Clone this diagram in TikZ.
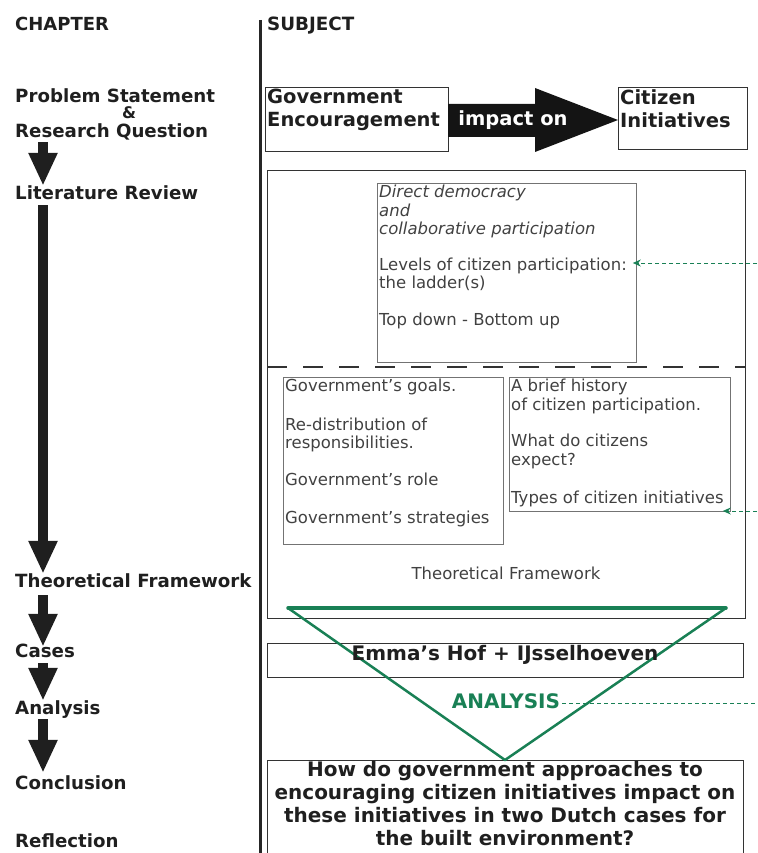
\documentclass[tikz,border=0pt]{standalone}
\usepackage{fontspec}
\setmainfont{DejaVu Sans}
\usetikzlibrary{arrows.meta}
\definecolor{grn}{RGB}{25,128,85}
\definecolor{txtgray}{RGB}{65,65,65}
\tikzset{
  lbl/.style={anchor=base west, inner sep=0pt, text height=13pt, text depth=4pt,
    font=\fontsize{18.2}{20}\selectfont\bfseries, text=black!88},
  bigarrow/.style={line width=10pt, -{Triangle[width=27pt,length=33pt]}, draw=black!88},
  frame/.style={draw=black!80, line width=1.3pt, anchor=north west, inner sep=0pt},
  thinbox/.style={draw=black!55, line width=0.8pt, anchor=north west, inner sep=0pt},
  boxtext/.style={anchor=north west, inner sep=0pt, align=left,
    font=\fontsize{16.5}{18.5}\selectfont, text=txtgray},
  bigbold/.style={inner sep=0pt, align=left, font=\fontsize{19.5}{23}\selectfont\bfseries, text=black!88},
  gdash/.style={draw=grn, line width=0.9pt, dash pattern=on 4pt off 3pt,
    -{Stealth[length=8pt,width=7pt]}},
}
\begin{document}
\begin{tikzpicture}[x=1pt,y=-1pt]
\useasboundingbox (0,0) rectangle (757,853);

% ---- left column: chapters ----
\node[lbl, font=\fontsize{18}{20}\selectfont\bfseries] (chap) at (15,31) {CHAPTER};
\node[lbl] (ps1) at (15,103) {Problem Statement};
\node[lbl, anchor=base, font=\fontsize{16}{18}\selectfont\bfseries] (amp) at (129,119) {\&};
\node[lbl] (ps2) at (15,138) {Research Question};
\node[lbl] (lit) at (15,199) {Literature Review};
\node[lbl] (theo) at (15,587) {Theoretical Framework};
\node[lbl] (cases) at (15,657) {Cases};
\node[lbl] (anal) at (15,714) {Analysis};
\node[lbl] (concl) at (15,789) {Conclusion};
\node[lbl] (refl) at (15,847) {Reflection};

\draw[bigarrow] ([xshift=28pt]ps2.south west) -- ([xshift=28pt]lit.north west);
\draw[bigarrow] ([xshift=28pt,yshift=-2pt]lit.south west) -- ([xshift=28pt]theo.north west);
\draw[bigarrow] ([xshift=28pt,yshift=-4pt]theo.south west) -- ([xshift=28pt,yshift=-3pt]cases.north west);
\draw[bigarrow] ([xshift=28pt,yshift=-2pt]cases.south west) -- ([xshift=28pt]anal.north west);
\draw[bigarrow] ([xshift=28pt,yshift=-1pt]anal.south west) -- ([xshift=28pt,yshift=3pt]concl.north west);

% ---- divider ----
\draw[line width=3pt, black!85] (260,20) -- (260,853);
\node[lbl, font=\fontsize{18.3}{20}\selectfont\bfseries] (subj) at (267,31) {SUBJECT};

% ---- top row ----
\node[frame, minimum width=183pt, minimum height=64pt] (gov) at (265,87) {};
\node[bigbold, anchor=north west] (govt) at (267,89) {Government\\Encouragement};
\fill[black!92] (448,104) -- (535,104) -- (535,88) -- (618,120) -- (535,152) -- (535,137) -- (448,137) -- cycle;
\node[bigbold, anchor=base, text=white] (imp) at (513,126) {impact on};
\node[frame, minimum width=129pt, minimum height=62pt] (cit) at (618,87) {};
\node[bigbold, anchor=north west] (citt) at (620,89) {Citizen\\Initiatives};

% ---- literature review / theoretical framework ----
\node[frame, minimum width=478pt, minimum height=448pt] (lr) at (267,170) {};
\draw[line width=2pt, black!80, dash pattern=on 20pt off 16pt] (lr.west |- 0,367) -- (lr.east |- 0,367);

\node[thinbox, minimum width=259pt, minimum height=179pt] (b1) at (377,183) {};
\node[boxtext] (b1t) at (379,185) {\textit{Direct democracy}\\\textit{and}\\\textit{collaborative participation}\\[17pt]Levels of citizen participation:\\the ladder(s)\\[18pt]Top down - Bottom up};

\node[thinbox, minimum width=220pt, minimum height=167pt] (b2) at (283,377) {};
\node[boxtext] (b2t) at (285,379) {Government’s goals.\\[20pt]Re-distribution of\\responsibilities.\\[18pt]Government’s role\\[20pt]Government’s strategies};

\node[thinbox, minimum width=221pt, minimum height=134pt] (b3) at (509,377) {};
\node[boxtext] (b3t) at (511,379) {A brief history\\of citizen participation.\\[18pt]What do citizens\\expect?\\[20pt]Types of citizen initiatives};

\node[anchor=base, inner sep=0pt, font=\fontsize{16.5}{19}\selectfont, text=txtgray] (tfl) at (506,579) {Theoretical Framework};

\coordinate (g1) at (757,263);
\draw[gdash, shorten >=-4pt] (g1) -- (g1 -| b1.east);
\coordinate (g2) at (757,511);
\draw[gdash, shorten >=-8pt] (g2) -- (g2 -| b3.east);

% ---- cases & conclusion ----
\node[frame, minimum width=476pt, minimum height=34pt] (cs) at (267,643) {};
\node[frame, minimum width=476pt, minimum height=110pt] (cq) at (267,760) {};

% ---- analysis triangle ----
\coordinate (tl) at (288,608);
\coordinate (tr) at (726,608);
\coordinate (tb) at (505,760);
\draw[grn, line width=2.5pt, line join=round] (tl) -- (tr) -- (tb) -- cycle;
\draw[grn, line width=3.5pt, line cap=round] (tl) -- (tr);

\node[anchor=base, inner sep=0pt, font=\fontsize{20}{23}\selectfont\bfseries, text=black!88] (cst) at (505,660) {Emma’s Hof + IJsselhoeven};
\node[anchor=base, inner sep=0pt, font=\fontsize{20}{22}\selectfont\bfseries, text=grn] (anl) at (506,708) {ANALYSIS};
\draw[grn, line width=0.9pt, dash pattern=on 4pt off 3pt] ([xshift=2pt,yshift=-3pt]anl.east) -- ([yshift=-3pt]anl.east -| 757,0);

\node[anchor=north, inner sep=0pt, align=center, font=\fontsize{20}{23}\selectfont\bfseries, text=black!88] (qt) at (505,761)
  {How do government approaches to\\encouraging citizen initiatives impact on\\these initiatives in two Dutch cases for\\the built environment?};
\end{tikzpicture}
\end{document}
